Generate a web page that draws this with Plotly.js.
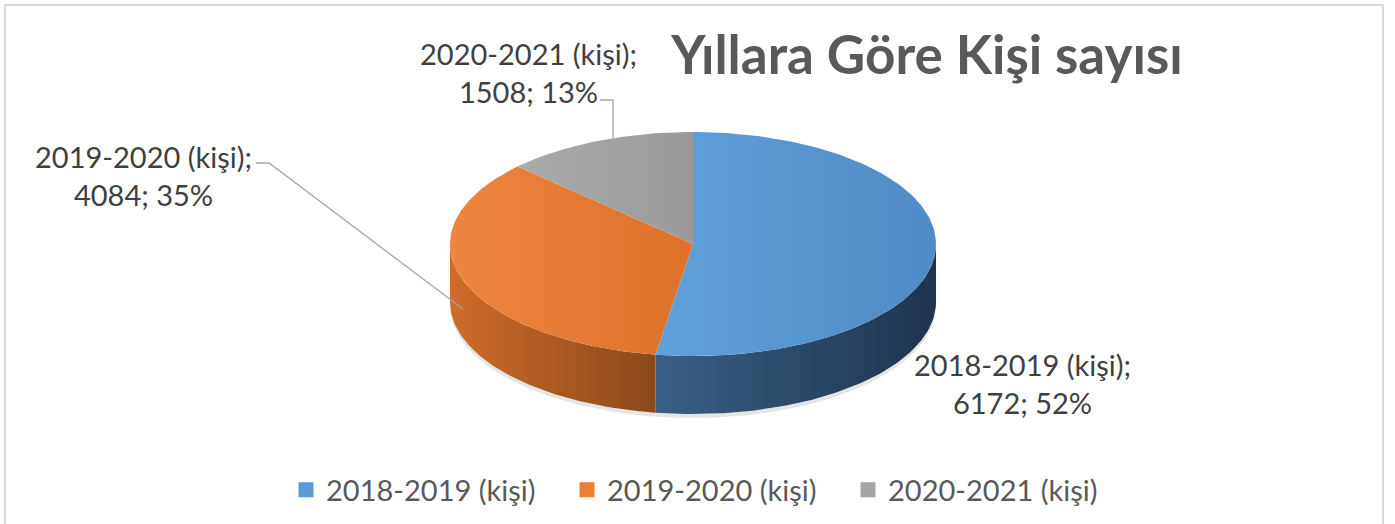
<!DOCTYPE html>
<html>
<head>
<meta charset="utf-8">
<script src="https://cdn.plot.ly/plotly-3.0.1.min.js"></script>
<style>
html,body{margin:0;padding:0;background:#fff;}
#chart{width:1395px;height:524px;}
</style>
</head>
<body>
<div id="chart"></div>
<script>
// ---- data ----
const categories = ['2018-2019 (kişi)', '2019-2020 (kişi)', '2020-2021 (kişi)'];
const values = [6172, 4084, 1508];
const titleText = 'Yıllara Göre Kişi sayısı';

// ---- style ----
const topColors = [['#60a0da', '#4f8bc6'], ['#ee8640', '#de7029'], ['#ababab', '#9a9a9a']];
const wallColors = [['#3a5f86', '#1f344d'], ['#cf6c2a', '#8c4819'], ['#8a8a8a', '#6a6a6a']];
const legendColors = ['#5B9BD5', '#ED7D31', '#A5A5A5'];
const W = 1395, H = 524;
const cx = 693, cy = 244, rx = 243, ry = 112, depth = 58;

const total = values.reduce((a, b) => a + b, 0);
const cum = [0];
values.forEach(v => cum.push(cum[cum.length - 1] + v / total));

function pt(th, off) {
  return [cx + rx * Math.sin(th), cy - ry * Math.cos(th) + (off || 0)];
}
function arc(a, b, off) {
  const n = Math.max(2, Math.ceil(Math.abs(b - a) / (Math.PI / 180)));
  const xs = [], ys = [];
  for (let i = 0; i <= n; i++) {
    const t = a + (b - a) * i / n;
    const p = pt(t, off);
    xs.push(p[0]); ys.push(p[1]);
  }
  return [xs, ys];
}

const traces = [];
// soft shadow
(function () {
  const s = arc(Math.PI / 2, 3 * Math.PI / 2, depth + 4);
  const t = arc(3 * Math.PI / 2, Math.PI / 2, depth - 10);
  traces.push({
    x: s[0].concat(t[0]), y: s[1].concat(t[1]), mode: 'lines', fill: 'toself',
    fillcolor: 'rgba(0,0,0,0.10)', line: {width: 0}, hoverinfo: 'skip', showlegend: false
  });
})();

// walls
values.forEach((v, i) => {
  const s = 2 * Math.PI * cum[i], e = 2 * Math.PI * cum[i + 1];
  const a = Math.max(s, Math.PI / 2), b = Math.min(e, 3 * Math.PI / 2);
  if (a >= b) return;
  const top = arc(a, b, 0), bot = arc(b, a, depth);
  traces.push({
    x: top[0].concat(bot[0]), y: top[1].concat(bot[1]), mode: 'lines', fill: 'toself',
    fillcolor: wallColors[i][0], line: {width: 0},
    fillgradient: {type: 'horizontal', colorscale: [[0, wallColors[i][0]], [1, wallColors[i][1]]]},
    hoverinfo: 'skip', showlegend: false
  });
});

// top faces
values.forEach((v, i) => {
  const s = 2 * Math.PI * cum[i], e = 2 * Math.PI * cum[i + 1];
  const ar = arc(s, e, 0);
  traces.push({
    x: [cx].concat(ar[0], [cx]), y: [cy].concat(ar[1], [cy]), mode: 'lines', fill: 'toself',
    fillcolor: topColors[i][0], line: {width: 0},
    fillgradient: {type: 'horizontal', colorscale: [[0, topColors[i][0]], [1, topColors[i][1]]]},
    hoverinfo: 'skip', showlegend: false
  });
});

// leader lines
const lineColor = '#a6a6a6';
(function () {
  const mid = Math.PI * (cum[1] + cum[2]);
  const p = pt(mid, depth / 2);
  traces.push({x: [256, 269, p[0]], y: [163, 163, p[1]], mode: 'lines',
    line: {color: lineColor, width: 1.3}, hoverinfo: 'skip', showlegend: false});
  const xe = 613;
  const ye = cy - ry * Math.sqrt(1 - Math.pow((xe - cx) / rx, 2));
  traces.push({x: [600, xe, xe], y: [100, 100, ye], mode: 'lines',
    line: {color: lineColor, width: 1.3}, hoverinfo: 'skip', showlegend: false});
})();

// legend entries
categories.forEach((c, i) => {
  traces.push({x: [null], y: [null], mode: 'markers', name: c,
    marker: {symbol: 'square', size: 15, color: legendColors[i]}, hoverinfo: 'skip'});
});

const labelPos = [[1022, 383], [143, 175], [528, 72]];
const annotations = categories.map((c, i) => {
  const pct = Math.round(values[i] / total * 100);
  return {
    x: labelPos[i][0], y: labelPos[i][1], xref: 'x', yref: 'y', showarrow: false,
    text: c + ';<br>' + values[i] + '; ' + pct + '%', align: 'center',
    font: {family: 'Lato, sans-serif', size: 29, color: '#404040'}
  };
});

const layout = {
  width: W, height: H,
  margin: {l: 0, r: 0, t: 0, b: 0},
  paper_bgcolor: '#ffffff', plot_bgcolor: '#ffffff',
  xaxis: {range: [0, W], visible: false, fixedrange: true},
  yaxis: {range: [H, 0], visible: false, fixedrange: true},
  title: {
    text: titleText, x: 927 / W, xanchor: 'center', y: 1 - 55 / H, yanchor: 'middle',
    font: {family: 'Lato, sans-serif', size: 53, color: '#595959', weight: 'bold'}
  },
  showlegend: true,
  legend: {
    orientation: 'h', x: 0.5 + 10 / W, xanchor: 'center', y: 1 - 490 / H, yanchor: 'middle',
    font: {family: 'Lato, sans-serif', size: 29, color: '#595959'},
    entrywidth: 236, entrywidthmode: 'pixels',
    bgcolor: 'rgba(0,0,0,0)'
  },
  annotations: annotations,
  shapes: [{type: 'rect', xref: 'x', yref: 'y', x0: 5, x1: 1383, y0: 5, y1: 540,
    line: {color: '#d9d9d9', width: 2}}]
};

Plotly.newPlot('chart', traces, layout, {displayModeBar: false, staticPlot: true});
</script>
</body>
</html>
